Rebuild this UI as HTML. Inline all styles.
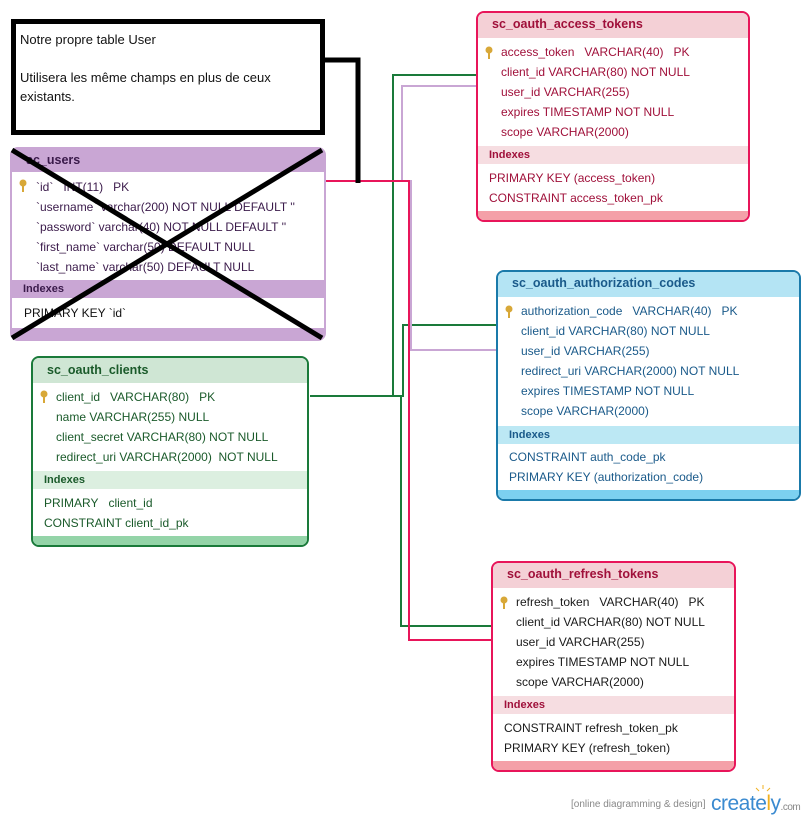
<!DOCTYPE html>
<html><head><meta charset="utf-8"><style>
body{margin:0;width:810px;height:822px;background:#fff;position:relative;overflow:hidden;font-family:"Liberation Sans",Arial,sans-serif;font-size:12px}
.t{position:absolute;border:2px solid;border-radius:8px;overflow:hidden;background:#fff;box-sizing:border-box}
.t div{position:absolute;left:0;right:0}
.h{top:0;height:23px;font-weight:bold;font-size:12.5px;line-height:23px;padding-left:14px}
.r{height:16px;line-height:16px;white-space:nowrap}
.ib{height:18px;font-weight:bold;font-size:11px;line-height:18px;padding-left:11px}
.bb{bottom:0;height:9px}
.k{position:absolute;left:6px;top:2px}
svg.c{position:absolute;left:0;top:0}
</style></head><body>

<svg class="c" width="810" height="822">
<g fill="none" stroke-width="2">
<polyline stroke="#1a7a3a" points="476,75 393,75 393,396 310,396"/>
<polyline stroke="#1a7a3a" points="497,325 403,325 403,396 393,396"/>
<polyline stroke="#1a7a3a" points="401,396 401,626 491,626"/>
<polyline stroke="#c9a6d4" points="476,86 402,86 402,181 411,181 411,350 497,350"/>
<polyline stroke="#e8155a" points="325,181 409,181 409,640 491,640"/>
</g>
</svg>

<!-- note -->
<div style="position:absolute;left:11px;top:19px;width:314px;height:116px;border:5px solid #000;box-sizing:border-box;font-size:13px;line-height:19px;padding:6px 0 0 4px;color:#111">Notre propre table User<br><br>Utilisera les même champs en plus de ceux existants.</div>

<!-- sc_users -->
<div class="t" style="left:10px;top:147px;width:316px;height:194px;border-color:#c9a6d4;color:#3a1a4a">
<div class="h" style="background:#c9a6d4;color:#3a1a4a">sc_users</div>
<svg class="k" style="top:30px" width="10" height="14"><circle cx="5" cy="4" r="3.5" fill="#d8a838"/><rect x="4" y="6" width="2" height="7" fill="#d8a838"/></svg>
<div class="r" style="top:30px;padding-left:24px">`id`&nbsp;&nbsp;&nbsp;INT(11)&nbsp;&nbsp;&nbsp;PK</div>
<div class="r" style="top:50px;padding-left:24px">`username` varchar(200) NOT NULL DEFAULT ''</div>
<div class="r" style="top:70px;padding-left:24px">`password` varchar(40) NOT NULL DEFAULT ''</div>
<div class="r" style="top:90px;padding-left:24px">`first_name` varchar(50) DEFAULT NULL</div>
<div class="r" style="top:110px;padding-left:24px">`last_name` varchar(50) DEFAULT NULL</div>
<div class="ib" style="top:131px;background:#c9a6d4">Indexes</div>
<div class="r" style="top:156px;padding-left:12px;color:#111">PRIMARY KEY `id`</div>
<div class="bb" style="background:#c9a6d4;height:11px"></div>
</div>
<svg class="c" width="810" height="822"><g stroke="#000" stroke-width="5" fill="none">
<line x1="12" y1="150" x2="322" y2="338"/><line x1="322" y1="150" x2="12" y2="338"/>
<polyline points="320,60 358,60 358,183"/></g></svg>

<!-- clients -->
<div class="t" style="left:31px;top:356px;width:278px;height:191px;border-color:#1a7a3a;color:#1a5a2a">
<div class="h" style="background:#cfe6d4;height:25px;line-height:25px">sc_oauth_clients</div>
<svg class="k" style="top:32px" width="10" height="14"><circle cx="5" cy="4" r="3.5" fill="#d8a838"/><rect x="4" y="6" width="2" height="7" fill="#d8a838"/></svg>
<div class="r" style="top:31px;padding-left:23px">client_id&nbsp;&nbsp;&nbsp;VARCHAR(80)&nbsp;&nbsp;&nbsp;PK</div>
<div class="r" style="top:51px;padding-left:23px">name VARCHAR(255) NULL</div>
<div class="r" style="top:71px;padding-left:23px">client_secret VARCHAR(80) NOT NULL</div>
<div class="r" style="top:91px;padding-left:23px">redirect_uri VARCHAR(2000)&nbsp; NOT NULL</div>
<div class="ib" style="top:113px;background:#dcefe0">Indexes</div>
<div class="r" style="top:137px;padding-left:11px">PRIMARY&nbsp;&nbsp;&nbsp;client_id</div>
<div class="r" style="top:157px;padding-left:11px">CONSTRAINT client_id_pk</div>
<div class="bb" style="background:#94d4a8"></div>
</div>

<!-- access tokens -->
<div class="t" style="left:476px;top:11px;width:274px;height:211px;border-color:#e8155a;color:#a0103a">
<div class="h" style="background:#f4d0d6;height:25px;line-height:23px">sc_oauth_access_tokens</div>
<svg class="k" style="top:33px" width="10" height="14"><circle cx="5" cy="4" r="3.5" fill="#d8a838"/><rect x="4" y="6" width="2" height="7" fill="#d8a838"/></svg>
<div class="r" style="top:31px;padding-left:23px">access_token&nbsp;&nbsp;&nbsp;VARCHAR(40)&nbsp;&nbsp;&nbsp;PK</div>
<div class="r" style="top:51px;padding-left:23px">client_id VARCHAR(80) NOT NULL</div>
<div class="r" style="top:71px;padding-left:23px">user_id VARCHAR(255)</div>
<div class="r" style="top:91px;padding-left:23px">expires TIMESTAMP NOT NULL</div>
<div class="r" style="top:111px;padding-left:23px">scope VARCHAR(2000)</div>
<div class="ib" style="top:133px;background:#f6dde1">Indexes</div>
<div class="r" style="top:157px;padding-left:11px">PRIMARY KEY (access_token)</div>
<div class="r" style="top:177px;padding-left:11px">CONSTRAINT access_token_pk</div>
<div class="bb" style="background:#f4a0a8"></div>
</div>

<!-- auth codes -->
<div class="t" style="left:496px;top:270px;width:305px;height:231px;border-color:#1a7aaa;color:#1a5a8a">
<div class="h" style="background:#b4e4f4;height:25px;line-height:23px">sc_oauth_authorization_codes</div>
<svg class="k" style="top:33px" width="10" height="14"><circle cx="5" cy="4" r="3.5" fill="#d8a838"/><rect x="4" y="6" width="2" height="7" fill="#d8a838"/></svg>
<div class="r" style="top:31px;padding-left:23px">authorization_code&nbsp;&nbsp;&nbsp;VARCHAR(40)&nbsp;&nbsp;&nbsp;PK</div>
<div class="r" style="top:51px;padding-left:23px">client_id VARCHAR(80) NOT NULL</div>
<div class="r" style="top:71px;padding-left:23px">user_id VARCHAR(255)</div>
<div class="r" style="top:91px;padding-left:23px">redirect_uri VARCHAR(2000) NOT NULL</div>
<div class="r" style="top:111px;padding-left:23px">expires TIMESTAMP NOT NULL</div>
<div class="r" style="top:131px;padding-left:23px">scope VARCHAR(2000)</div>
<div class="ib" style="top:154px;background:#bce8f4">Indexes</div>
<div class="r" style="top:177px;padding-left:11px">CONSTRAINT auth_code_pk</div>
<div class="r" style="top:197px;padding-left:11px">PRIMARY KEY (authorization_code)</div>
<div class="bb" style="background:#7cd0f0"></div>
</div>

<!-- refresh tokens -->
<div class="t" style="left:491px;top:561px;width:245px;height:211px;border-color:#e8155a;color:#1a1a1a">
<div class="h" style="background:#f4d0d6;height:25px;line-height:23px;color:#a0103a">sc_oauth_refresh_tokens</div>
<svg class="k" style="top:33px" width="10" height="14"><circle cx="5" cy="4" r="3.5" fill="#d8a838"/><rect x="4" y="6" width="2" height="7" fill="#d8a838"/></svg>
<div class="r" style="top:31px;padding-left:23px">refresh_token&nbsp;&nbsp;&nbsp;VARCHAR(40)&nbsp;&nbsp;&nbsp;PK</div>
<div class="r" style="top:51px;padding-left:23px">client_id VARCHAR(80) NOT NULL</div>
<div class="r" style="top:71px;padding-left:23px">user_id VARCHAR(255)</div>
<div class="r" style="top:91px;padding-left:23px">expires TIMESTAMP NOT NULL</div>
<div class="r" style="top:111px;padding-left:23px">scope VARCHAR(2000)</div>
<div class="ib" style="top:133px;background:#f6dde1;color:#a0103a">Indexes</div>
<div class="r" style="top:157px;padding-left:11px">CONSTRAINT refresh_token_pk</div>
<div class="r" style="top:177px;padding-left:11px">PRIMARY KEY (refresh_token)</div>
<div class="bb" style="background:#f4a0a8"></div>
</div>

<!-- creately -->
<div style="position:absolute;left:571px;top:799px;font-size:10px;color:#888">[online diagramming &amp; design]</div>
<div style="position:absolute;left:711px;top:792px;font-size:21px;color:#3a8ad0;letter-spacing:-0.5px">creat<span style="color:#3a8ad0">e</span><span style="color:#f0b020">l</span>y<span style="font-size:10px;color:#888">.com</span></div>
<svg class="c" width="810" height="822"><g stroke="#f0b020" stroke-width="1"><line x1="763" y1="785" x2="763" y2="789"/><line x1="756" y1="788" x2="759" y2="791"/><line x1="770" y1="788" x2="767" y2="791"/></g></svg>
</body></html>
